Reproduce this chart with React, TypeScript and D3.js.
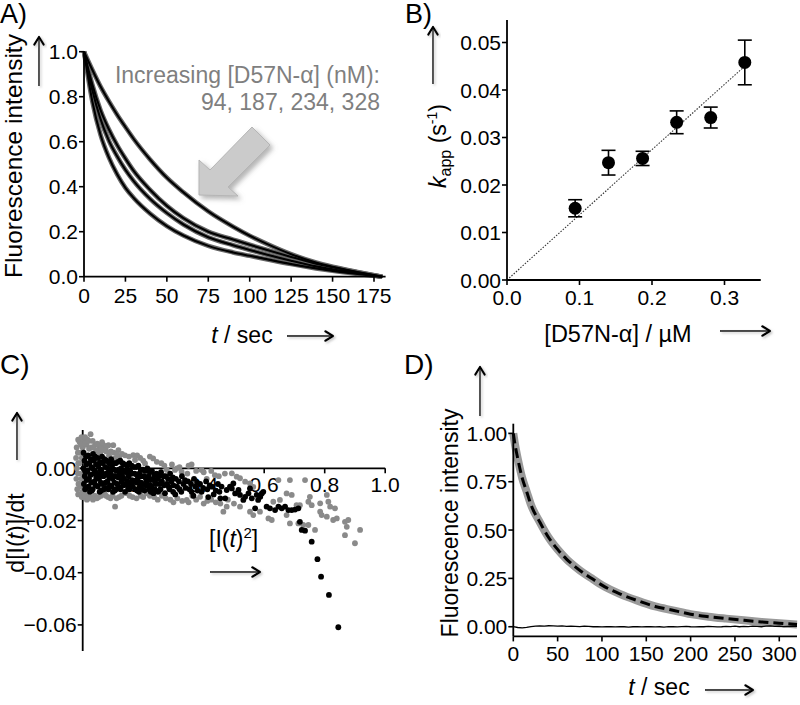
import React from "react";
import * as d3 from "d3";

const FONT = "'Liberation Sans', Arial, Helvetica, sans-serif";

// ---------------- Panel A : normalized fluorescence decays ----------------
const timeA = [0, 5, 10, 15, 20, 25, 30, 40, 50, 60, 75, 90, 100, 110, 125, 140, 150, 165, 180];
const fitA94 = [1, 0.92, 0.845, 0.78, 0.72, 0.665, 0.612, 0.52, 0.44, 0.375, 0.29, 0.222, 0.182, 0.147, 0.1, 0.063, 0.044, 0.021, 0];
const fitA187 = [1, 0.855, 0.74, 0.655, 0.585, 0.525, 0.47, 0.385, 0.315, 0.26, 0.2, 0.165, 0.142, 0.12, 0.088, 0.058, 0.042, 0.02, 0];
const fitA234 = [1, 0.83, 0.7, 0.605, 0.535, 0.475, 0.425, 0.345, 0.283, 0.232, 0.175, 0.14, 0.119, 0.099, 0.071, 0.046, 0.033, 0.016, 0];
const fitA328 = [1, 0.78, 0.63, 0.53, 0.455, 0.395, 0.35, 0.28, 0.225, 0.183, 0.137, 0.108, 0.093, 0.078, 0.056, 0.037, 0.026, 0.012, 0];
const seriesA = [fitA94, fitA187, fitA234, fitA328];
const ticksAx = [0, 25, 50, 75, 100, 125, 150, 175];
const ticksAy = [0, 0.2, 0.4, 0.6, 0.8, 1.0];
const annotA = ["Increasing [D57N-\u03b1] (nM):", "94, 187, 234, 328"];

// ---------------- Panel B : k_app vs concentration ----------------
const concB = [0.094, 0.14, 0.187, 0.234, 0.281, 0.328];
const kappB = [0.0151, 0.0247, 0.0256, 0.0332, 0.0342, 0.0458];
const errB = [0.0018, 0.0026, 0.0015, 0.0024, 0.0022, 0.0047];
const fitBx = [0, 0.33];
const fitBy = [0, 0.0453];
const ticksBx = [0, 0.1, 0.2, 0.3];
const ticksBy = [0, 0.01, 0.02, 0.03, 0.04, 0.05];

// ---------------- Panel C : derivative vs I^2 ----------------
const grayC: [number, number][] = [
  [-0.02, 0.008], [-0.022, 0.004], [-0.019, 0.0], [-0.021, -0.004], [-0.018, -0.008],
  [-0.01, 0.01], [-0.008, 0.006], [-0.011, 0.002], [-0.009, -0.002], [-0.012, -0.006], [-0.007, -0.01],
  [0.001, 0.011], [0.0, 0.008], [-0.002, -0.009], [0.002, -0.011],
  [0.013, 0.009], [0.016, 0.011], [0.012, -0.01], [0.014, -0.012],
  [0.026, 0.0131], [0.028, 0.008], [0.027, -0.011],
  [0.041, 0.009], [0.044, 0.0065], [0.04, -0.0105],
  [0.055, 0.0085], [0.058, 0.006], [0.053, -0.011],
  [0.071, 0.007], [0.068, 0.009], [0.072, -0.0095],
  [0.085, 0.0089], [0.087, 0.005], [0.084, -0.011],
  [0.101, 0.0089], [0.103, 0.006], [0.099, -0.0105],
  [0.107, 0.0038], [0.107, -0.0147],
  [0.118, 0.007], [0.121, 0.0045], [0.12, -0.011],
  [0.14, 0.005], [0.143, -0.0095],
  [0.167, 0.0051], [0.173, 0.0032], [0.165, -0.011],
  [0.19, 0.004], [0.192, -0.0105],
  [0.206, 0.0019], [0.212, -0.0096],
  [0.233, 0.0038], [0.236, -0.011],
  [0.26, 0.002], [0.262, -0.0105],
  [0.278, -0.0006], [0.29, -0.012],
  [0.305, -0.0006], [0.311, 0.0], [0.313, -0.0115],
  [0.327, -0.0013], [0.329, -0.0125],
  [0.344, -0.0121], [0.346, -0.002],
  [0.36, 0.0015], [0.362, -0.0105],
  [0.388, -0.0109], [0.393, -0.0006],
  [0.41, -0.004], [0.412, -0.0125],
  [0.437, -0.0026], [0.44, -0.013],
  [-0.015, 0.011], [-0.016, 0.006], [-0.015, 0.002], [-0.016, -0.002], [-0.014, -0.006], [-0.015, -0.01],
  [-0.004, 0.012], [-0.005, 0.009], [-0.003, 0.004], [-0.004, -0.004], [-0.005, -0.007], [-0.003, -0.011],
  [0.007, 0.0095], [0.008, 0.012], [0.006, -0.0105],
  [0.02, 0.0105], [0.021, 0.0075], [0.019, -0.0115],
  [0.033, 0.0105], [0.035, 0.008], [0.034, -0.012],
  [0.048, 0.0095], [0.05, 0.007], [0.047, -0.0115],
  [0.062, 0.0075], [0.064, 0.01], [0.061, -0.0105],
  [0.078, 0.0065], [0.079, 0.0085], [0.077, -0.0105],
  [0.093, 0.0065], [0.092, -0.0115],
  [0.113, 0.0055], [0.112, -0.0115],
  [0.13, 0.0055], [0.128, -0.0105],
  [0.153, 0.0045], [0.155, -0.0105],
  [0.18, 0.005], [0.178, -0.0115],
  [0.2, 0.003], [0.222, 0.0045], [0.245, 0.0025], [0.27, 0.001], [0.295, 0.0015], [0.32, 0.0005],
  [0.35, 0.001], [0.375, -0.001], [0.4, -0.0015], [0.425, -0.001], [0.45, -0.003], [0.47, -0.002],
  [0.2, -0.011], [0.222, -0.0105], [0.248, -0.012], [0.275, -0.0115], [0.3, -0.013], [0.35, -0.013],
  [0.375, -0.012], [0.4, -0.0135], [0.425, -0.012], [0.455, -0.0135], [0.48, -0.012], [0.5, -0.0135],
  [0.465, -0.0166], [0.476, -0.0147], [0.493, -0.0019], [0.509, -0.0032], [0.52, -0.0038],
  [0.52, -0.0147], [0.537, -0.0051], [0.553, -0.0058], [0.553, -0.0166], [0.564, -0.0071],
  [0.564, -0.0179], [0.586, -0.0166], [0.614, -0.0192], [0.625, -0.0198], [0.63, -0.0128],
  [0.647, -0.0045], [0.652, -0.0121], [0.674, -0.0096], [0.674, -0.0179], [0.685, -0.0045],
  [0.685, -0.0211], [0.691, -0.0102], [0.707, -0.0141], [0.713, -0.0211], [0.718, -0.0141],
  [0.729, -0.0217], [0.735, -0.0045], [0.746, -0.0128], [0.746, -0.0217], [0.751, -0.0109],
  [0.757, -0.0141], [0.768, -0.0236], [0.785, -0.0134], [0.785, -0.0166], [0.79, -0.0179],
  [0.807, -0.0102], [0.807, -0.0185], [0.812, -0.0128], [0.818, -0.0147], [0.828, -0.0198],
  [0.834, -0.0153], [0.84, -0.0192], [0.867, -0.0205], [0.867, -0.0256], [0.873, -0.0224],
  [0.878, -0.0198], [0.9, -0.0287], [0.917, -0.0236],
];
const blackC: [number, number][] = [
  [0.003, 0.006], [0.006, 0.003], [0.002, 0.0], [0.007, -0.003], [0.004, -0.006], [0.008, -0.008],
  [0.018, 0.005], [0.022, 0.002], [0.016, -0.001], [0.021, -0.004], [0.019, -0.007], [0.024, -0.009],
  [0.034, 0.0055], [0.037, 0.003], [0.032, 0.0], [0.036, -0.002], [0.039, -0.005], [0.033, -0.008],
  [0.049, 0.004], [0.052, 0.001], [0.047, -0.002], [0.054, -0.004], [0.05, -0.007], [0.056, -0.009],
  [0.064, 0.0045], [0.067, 0.002], [0.062, -0.001], [0.069, -0.003], [0.065, -0.006], [0.07, -0.008],
  [0.079, 0.003], [0.083, 0.0], [0.077, -0.002], [0.082, -0.005], [0.085, -0.008],
  [0.094, 0.0035], [0.097, 0.001], [0.092, -0.002], [0.099, -0.004], [0.095, -0.007], [0.1, -0.009],
  [0.109, 0.002], [0.112, -0.001], [0.107, -0.003], [0.114, -0.006], [0.11, -0.008],
  [0.124, 0.003], [0.127, 0.0], [0.122, -0.002], [0.129, -0.005], [0.125, -0.008],
  [0.139, 0.0015], [0.142, -0.001], [0.137, -0.004], [0.144, -0.006], [0.14, -0.009],
  [0.154, 0.002], [0.157, -0.001], [0.152, -0.003], [0.159, -0.006], [0.155, -0.008],
  [0.169, 0.0005], [0.172, -0.002], [0.167, -0.005], [0.174, -0.008],
  [0.184, 0.001], [0.187, -0.002], [0.182, -0.004], [0.189, -0.007], [0.186, -0.009],
  [0.199, -0.0005], [0.203, -0.003], [0.197, -0.006], [0.204, -0.0085],
  [0.214, 0.0], [0.218, -0.003], [0.212, -0.005], [0.219, -0.008],
  [0.229, -0.001], [0.233, -0.004], [0.227, -0.007], [0.234, -0.0095],
  [0.244, -0.002], [0.248, -0.004], [0.242, -0.006], [0.249, -0.009],
  [0.259, -0.0015], [0.262, -0.005], [0.257, -0.008],
  [0.274, -0.003], [0.278, -0.006], [0.272, -0.0095],
  [0.289, -0.002], [0.293, -0.005], [0.287, -0.008],
  [0.308, -0.004], [0.312, -0.007], [0.306, -0.01],
  [0.328, -0.003], [0.333, -0.006], [0.326, -0.009],
  [0.348, -0.005], [0.353, -0.008],
  [0.368, -0.004], [0.372, -0.007], [0.366, -0.0105],
  [0.388, -0.006], [0.393, -0.009],
  [0.408, -0.005], [0.412, -0.008], [0.415, -0.011],
  [0.428, -0.007], [0.433, -0.01],
  [0.447, -0.006], [0.452, -0.009], [0.455, -0.0115],
  [0.011, 0.0045], [0.012, 0.0015], [0.01, -0.0015], [0.013, -0.0045], [0.012, -0.0075],
  [0.027, 0.0035], [0.029, 0.0005], [0.026, -0.0025], [0.028, -0.0055], [0.03, -0.0085],
  [0.042, 0.0045], [0.044, 0.0015], [0.041, -0.001], [0.045, -0.0035], [0.043, -0.0065],
  [0.057, 0.0025], [0.059, -0.0005], [0.058, -0.0025], [0.06, -0.0055], [0.061, -0.0085],
  [0.072, 0.0035], [0.074, 0.0005], [0.073, -0.0025], [0.075, -0.0055], [0.076, -0.0075],
  [0.087, 0.002], [0.089, -0.001], [0.088, -0.0035], [0.09, -0.0065],
  [0.102, 0.002], [0.104, -0.0005], [0.103, -0.003], [0.105, -0.0055], [0.106, -0.0085],
  [0.117, 0.0025], [0.119, -0.0005], [0.118, -0.0035], [0.12, -0.007],
  [0.132, 0.002], [0.134, -0.0015], [0.133, -0.0035], [0.135, -0.0065],
  [0.147, 0.001], [0.149, -0.002], [0.148, -0.005], [0.15, -0.0075],
  [0.162, 0.001], [0.164, -0.002], [0.163, -0.0045], [0.165, -0.007],
  [0.177, 0.0005], [0.179, -0.0025], [0.178, -0.0055], [0.18, -0.0085],
  [0.192, -0.0005], [0.194, -0.003], [0.193, -0.0055], [0.195, -0.008],
  [0.207, -0.001], [0.209, -0.004], [0.208, -0.0065],
  [0.222, -0.0015], [0.224, -0.0045], [0.223, -0.0065], [0.225, -0.009],
  [0.237, -0.0025], [0.239, -0.0055], [0.238, -0.008],
  [0.252, -0.003], [0.254, -0.006], [0.253, -0.0085],
  [0.267, -0.003], [0.269, -0.0065],
  [0.282, -0.004], [0.284, -0.007],
  [0.298, -0.0035], [0.3, -0.0065], [0.299, -0.009],
  [0.318, -0.005], [0.32, -0.008],
  [0.338, -0.0045], [0.34, -0.0075],
  [0.358, -0.006], [0.36, -0.009],
  [0.378, -0.0055], [0.38, -0.0085],
  [0.398, -0.0075], [0.42, -0.0065], [0.44, -0.0085],
  [0.459, -0.007], [0.471, -0.0115], [0.476, -0.0083], [0.487, -0.007], [0.493, -0.0077],
  [0.498, -0.0058], [0.504, -0.0096], [0.515, -0.0083], [0.52, -0.0102], [0.531, -0.0121],
  [0.537, -0.0109], [0.548, -0.0096], [0.553, -0.0077], [0.559, -0.0115], [0.57, -0.0153],
  [0.575, -0.0102], [0.58, -0.0121], [0.587, -0.0109], [0.592, -0.0096], [0.597, -0.009],
  [0.608, -0.0147], [0.619, -0.0153], [0.636, -0.016], [0.647, -0.0147], [0.658, -0.0153],
  [0.669, -0.0147], [0.68, -0.016], [0.691, -0.016], [0.702, -0.0158], [0.713, -0.0153],
  [0.718, -0.0205], [0.724, -0.0236], [0.735, -0.0239], [0.757, -0.0281], [0.776, -0.0348],
  [0.788, -0.0415], [0.814, -0.0485], [0.845, -0.0609],
];
const ticksCx = [0.2, 0.4, 0.6, 0.8, 1.0];
const ticksCy = [0, -0.02, -0.04, -0.06];

// ---------------- Panel D : single decay with fit and buffer baseline ----------------
const timeD = [0, 2, 5, 10, 15, 20, 30, 40, 50, 60, 70, 80, 90, 100, 120, 140, 160, 180, 200, 220, 240, 260, 280, 300, 320];
const dataD = [1.0, 0.94, 0.87, 0.77, 0.7, 0.63, 0.54, 0.46, 0.4, 0.35, 0.31, 0.275, 0.245, 0.215, 0.17, 0.135, 0.105, 0.085, 0.065, 0.052, 0.042, 0.033, 0.025, 0.018, 0.012];
const baseTimeStep = 5;
const baseD = [
  0.0, -0.004, -0.006, -0.003, 0.001, 0.003, 0.004, 0.003, 0.005, 0.004, 0.003, 0.004, 0.002,
  0.003, 0.002, 0.001, 0.003, 0.002, 0.0, 0.001, -0.001, 0.001, 0.0, -0.001, 0.001, 0.0,
  -0.002, 0.0, 0.001, -0.001, 0.0, 0.001, -0.001, 0.0, -0.002, 0.001, 0.0, -0.001, 0.001,
  0.002, 0.0, -0.001, 0.001, 0.0, 0.002, 0.001, -0.001, 0.0, 0.002, 0.001, 0.003, 0.0,
  0.002, 0.001, 0.003, 0.002, 0.0, 0.003, 0.004, 0.002, 0.003, 0.001, 0.002, 0.003, 0.002,
];
const ticksDx = [0, 50, 100, 150, 200, 250, 300];
const ticksDy = [0, 0.25, 0.5, 0.75, 1.0];

const TICK_FS = 21;

function Arrow({ x1, y1, x2, y2 }: { x1: number; y1: number; x2: number; y2: number }) {
  const a = Math.atan2(y2 - y1, x2 - x1);
  const L = 9;
  const h1 = [x2 - L * Math.cos(a - 0.55), y2 - L * Math.sin(a - 0.55)];
  const h2 = [x2 - L * Math.cos(a + 0.55), y2 - L * Math.sin(a + 0.55)];
  return (
    <g filter="url(#softShadow)">
      <line x1={x1} y1={y1} x2={x2} y2={y2} stroke="#000" strokeWidth={1.4} />
      <path d={`M${h1[0]},${h1[1]} L${x2},${y2} L${h2[0]},${h2[1]}`} fill="none" stroke="#000" strokeWidth={2.2} strokeLinecap="round" strokeLinejoin="round" />
    </g>
  );
}

function YAxis({ x, scale, ticks, fmt, y0, y1 }: any) {
  return (
    <g>
      <line x1={x} x2={x} y1={y0} y2={y1} stroke="#000" strokeWidth={1.8} />
      {ticks.map((t: number) => (
        <g key={t}>
          <line x1={x - 5} x2={x} y1={scale(t)} y2={scale(t)} stroke="#000" strokeWidth={1.6} />
          <text x={x - 6} y={scale(t)} dy="0.36em" textAnchor="end" fontSize={TICK_FS} fontFamily={FONT} fill="#000">
            {fmt(t)}
          </text>
        </g>
      ))}
    </g>
  );
}

function XAxis({ y, scale, ticks, fmt, x0, x1, labelY }: any) {
  return (
    <g>
      <line x1={x0} x2={x1} y1={y} y2={y} stroke="#000" strokeWidth={1.8} />
      {ticks.map((t: number) => (
        <g key={t}>
          <line x1={scale(t)} x2={scale(t)} y1={y} y2={y + 5} stroke="#000" strokeWidth={1.6} />
          <text x={scale(t)} y={labelY} textAnchor="middle" fontSize={TICK_FS} fontFamily={FONT} fill="#000">
            {fmt(t)}
          </text>
        </g>
      ))}
    </g>
  );
}

export default function App() {
  // Panel A scales
  const xA = d3.scaleLinear().domain([0, 182]).range([84, 385.6]);
  const yA = d3.scaleLinear().domain([0, 1]).range([276.7, 51.7]);
  const lineA = d3
    .line<number>()
    .x((_, i) => xA(timeA[i]))
    .y((v) => yA(v))
    .curve(d3.curveMonotoneX);

  // Panel B scales
  const xB = d3.scaleLinear().domain([0, 0.35]).range([507, 760.75]);
  const yB = d3.scaleLinear().domain([0, 0.055]).range([280, 18.75]);

  // Panel C scales
  const xC = d3.scaleLinear().domain([0, 1]).range([82.7, 385.2]);
  const yC = d3.scaleLinear().domain([-0.07, 0.0147]).range([651, 430]);

  // Panel D scales
  const xD = d3.scaleLinear().domain([0, 320]).range([513.3, 797]);
  const yD = d3.scaleLinear().domain([-0.05, 1.05]).range([636.4, 423.7]);
  const lineD = d3
    .line<number>()
    .x((_, i) => xD(timeD[i]))
    .y((v) => yD(v))
    .curve(d3.curveMonotoneX);
  const lineBase = d3
    .line<number>()
    .x((_, i) => xD(i * baseTimeStep))
    .y((v) => yD(v));

  const f1 = d3.format(".1f");
  const f2 = d3.format(".2f");

  return (
    <svg width={800} height={705} style={{ position: "absolute", left: 0, top: 0, background: "#fff" }} fontFamily={FONT}>
      <defs>
        <filter id="softShadow" x="-20%" y="-50%" width="150%" height="200%">
          <feDropShadow dx={1.5} dy={1.5} stdDeviation={1} floodColor="#888" floodOpacity={0.5} />
        </filter>
        <filter id="bigShadow" x="-20%" y="-20%" width="150%" height="150%">
          <feDropShadow dx={3} dy={3} stdDeviation={2.5} floodColor="#777" floodOpacity={0.55} />
        </filter>
      </defs>
      <rect x={0} y={0} width={800} height={705} fill="#fff" />

      {/* ================= Panel A ================= */}
      <text x={0} y={23} fontSize={27} fill="#000">A)</text>
      <text transform={`translate(22,156) rotate(-90)`} textAnchor="middle" fontSize={24.5} fill="#000">
        Fluorescence intensity
      </text>
      <Arrow x1={39} y1={86} x2={39} y2={37} />
      {seriesA.map((s, i) => (
        <path key={"g" + i} d={lineA(s) || ""} fill="none" stroke="#666" strokeWidth={4.6} strokeLinejoin="round" />
      ))}
      {seriesA.map((s, i) => (
        <path key={"k" + i} d={lineA(s) || ""} fill="none" stroke="#000" strokeWidth={2.1} strokeLinejoin="round" />
      ))}
      <YAxis x={84} scale={yA} ticks={ticksAy} fmt={f1} y0={yA(1)} y1={yA(0)} />
      <XAxis y={276.7} scale={xA} ticks={ticksAx} fmt={(t: number) => String(t)} x0={84} x1={385.6} labelY={303} />
      <polygon
        points="199,195 199,160 210,170 252,127 270,145 228,187 238,196"
        fill="#cbcbcb"
        stroke="#b5b5b5"
        strokeWidth={1}
        filter="url(#bigShadow)"
      />
      {annotA.map((t, i) => (
        <text key={t} x={380} y={83 + i * 27} textAnchor="end" fontSize={23} fill="#7f7f7f">
          {t}
        </text>
      ))}
      <text x={242} y={343} textAnchor="middle" fontSize={23} fill="#000">
        <tspan fontStyle="italic">t</tspan> / sec
      </text>
      <Arrow x1={287} y1={336} x2={333} y2={336} />

      {/* ================= Panel B ================= */}
      <text x={405} y={23} fontSize={27} fill="#000">B)</text>
      <text transform={`translate(446,146) rotate(-90)`} textAnchor="middle" fontSize={23} fill="#000">
        <tspan fontStyle="italic">k</tspan>
        <tspan fontSize={16} dy={5}>app</tspan>
        <tspan dy={-5}> (s</tspan>
        <tspan fontSize={14} dy={-9}>-1</tspan>
        <tspan dy={9}>)</tspan>
      </text>
      <Arrow x1={433} y1={84} x2={433} y2={27} />
      <line
        x1={xB(fitBx[0])}
        y1={yB(fitBy[0])}
        x2={xB(fitBx[1])}
        y2={yB(fitBy[1])}
        stroke="#333"
        strokeWidth={1.1}
        strokeDasharray="1.5 1.5"
      />
      <YAxis x={507} scale={yB} ticks={ticksBy} fmt={f2} y0={20} y1={280} />
      <XAxis y={280} scale={xB} ticks={ticksBx} fmt={f1} x0={507} x1={760.75} labelY={305} />
      {concB.map((c, i) => (
        <g key={c}>
          <line x1={xB(c)} x2={xB(c)} y1={yB(kappB[i] - errB[i])} y2={yB(kappB[i] + errB[i])} stroke="#000" strokeWidth={1.6} />
          <line x1={xB(c) - 7} x2={xB(c) + 7} y1={yB(kappB[i] - errB[i])} y2={yB(kappB[i] - errB[i])} stroke="#000" strokeWidth={1.6} />
          <line x1={xB(c) - 7} x2={xB(c) + 7} y1={yB(kappB[i] + errB[i])} y2={yB(kappB[i] + errB[i])} stroke="#000" strokeWidth={1.6} />
          <circle cx={xB(c)} cy={yB(kappB[i])} r={6.5} fill="#000" />
        </g>
      ))}
      <text x={618} y={342} textAnchor="middle" fontSize={23.5} fill="#000">
        [D57N-{"\u03b1"}] / {"\u00b5"}M
      </text>
      <Arrow x1={720} y1={331} x2={770} y2={331} />

      {/* ================= Panel C ================= */}
      <text x={0} y={374} fontSize={28} fill="#000">C)</text>
      <text transform={`translate(24,533) rotate(-90)`} textAnchor="middle" fontSize={23} fill="#000">
        d[I(<tspan fontStyle="italic">t</tspan>)]/dt
      </text>
      <Arrow x1={17} y1={460} x2={17} y2={413} />
      <YAxis x={82.7} scale={yC} ticks={ticksCy} fmt={f2} y0={430} y1={651} />
      <XAxis y={yC(0)} scale={xC} ticks={ticksCx} fmt={f1} x0={82.7} x1={385.2} labelY={492} />
      {grayC.map((p, i) => (
        <circle key={"gc" + i} cx={xC(p[0])} cy={yC(p[1])} r={2.9} fill="#8a8a8a" />
      ))}
      {blackC.map((p, i) => (
        <circle key={"bc" + i} cx={xC(p[0])} cy={yC(p[1])} r={2.9} fill="#000" />
      ))}
      <text x={209} y={547} fontSize={23} fill="#000">
        [I(<tspan fontStyle="italic">t</tspan>)<tspan fontSize={15} dy={-9}>2</tspan><tspan dy={9}>]</tspan>
      </text>
      <Arrow x1={210} y1={572} x2={260} y2={572} />

      {/* ================= Panel D ================= */}
      <text x={404} y={374} fontSize={28} fill="#000">D)</text>
      <text transform={`translate(458,523) rotate(-90)`} textAnchor="middle" fontSize={23} fill="#000">
        Fluorescence intensity
      </text>
      <Arrow x1={480} y1={416} x2={480} y2={367} />
      <path d={lineD(dataD) || ""} fill="none" stroke="#9a9a9a" strokeWidth={8} strokeLinejoin="round" />
      <path d={lineD(dataD) || ""} fill="none" stroke="#000" strokeWidth={3} strokeDasharray="10 5" />
      <path d={lineBase(baseD) || ""} fill="none" stroke="#000" strokeWidth={1.3} />
      <YAxis x={513.3} scale={yD} ticks={ticksDy} fmt={f2} y0={423.7} y1={636.4} />
      <XAxis y={636.4} scale={xD} ticks={ticksDx} fmt={(t: number) => String(t)} x0={513.3} x1={797} labelY={661} />
      <text x={659} y={695} textAnchor="middle" fontSize={23} fill="#000">
        <tspan fontStyle="italic">t</tspan> / sec
      </text>
      <Arrow x1={705} y1={690} x2={753} y2={690} />
    </svg>
  );
}
